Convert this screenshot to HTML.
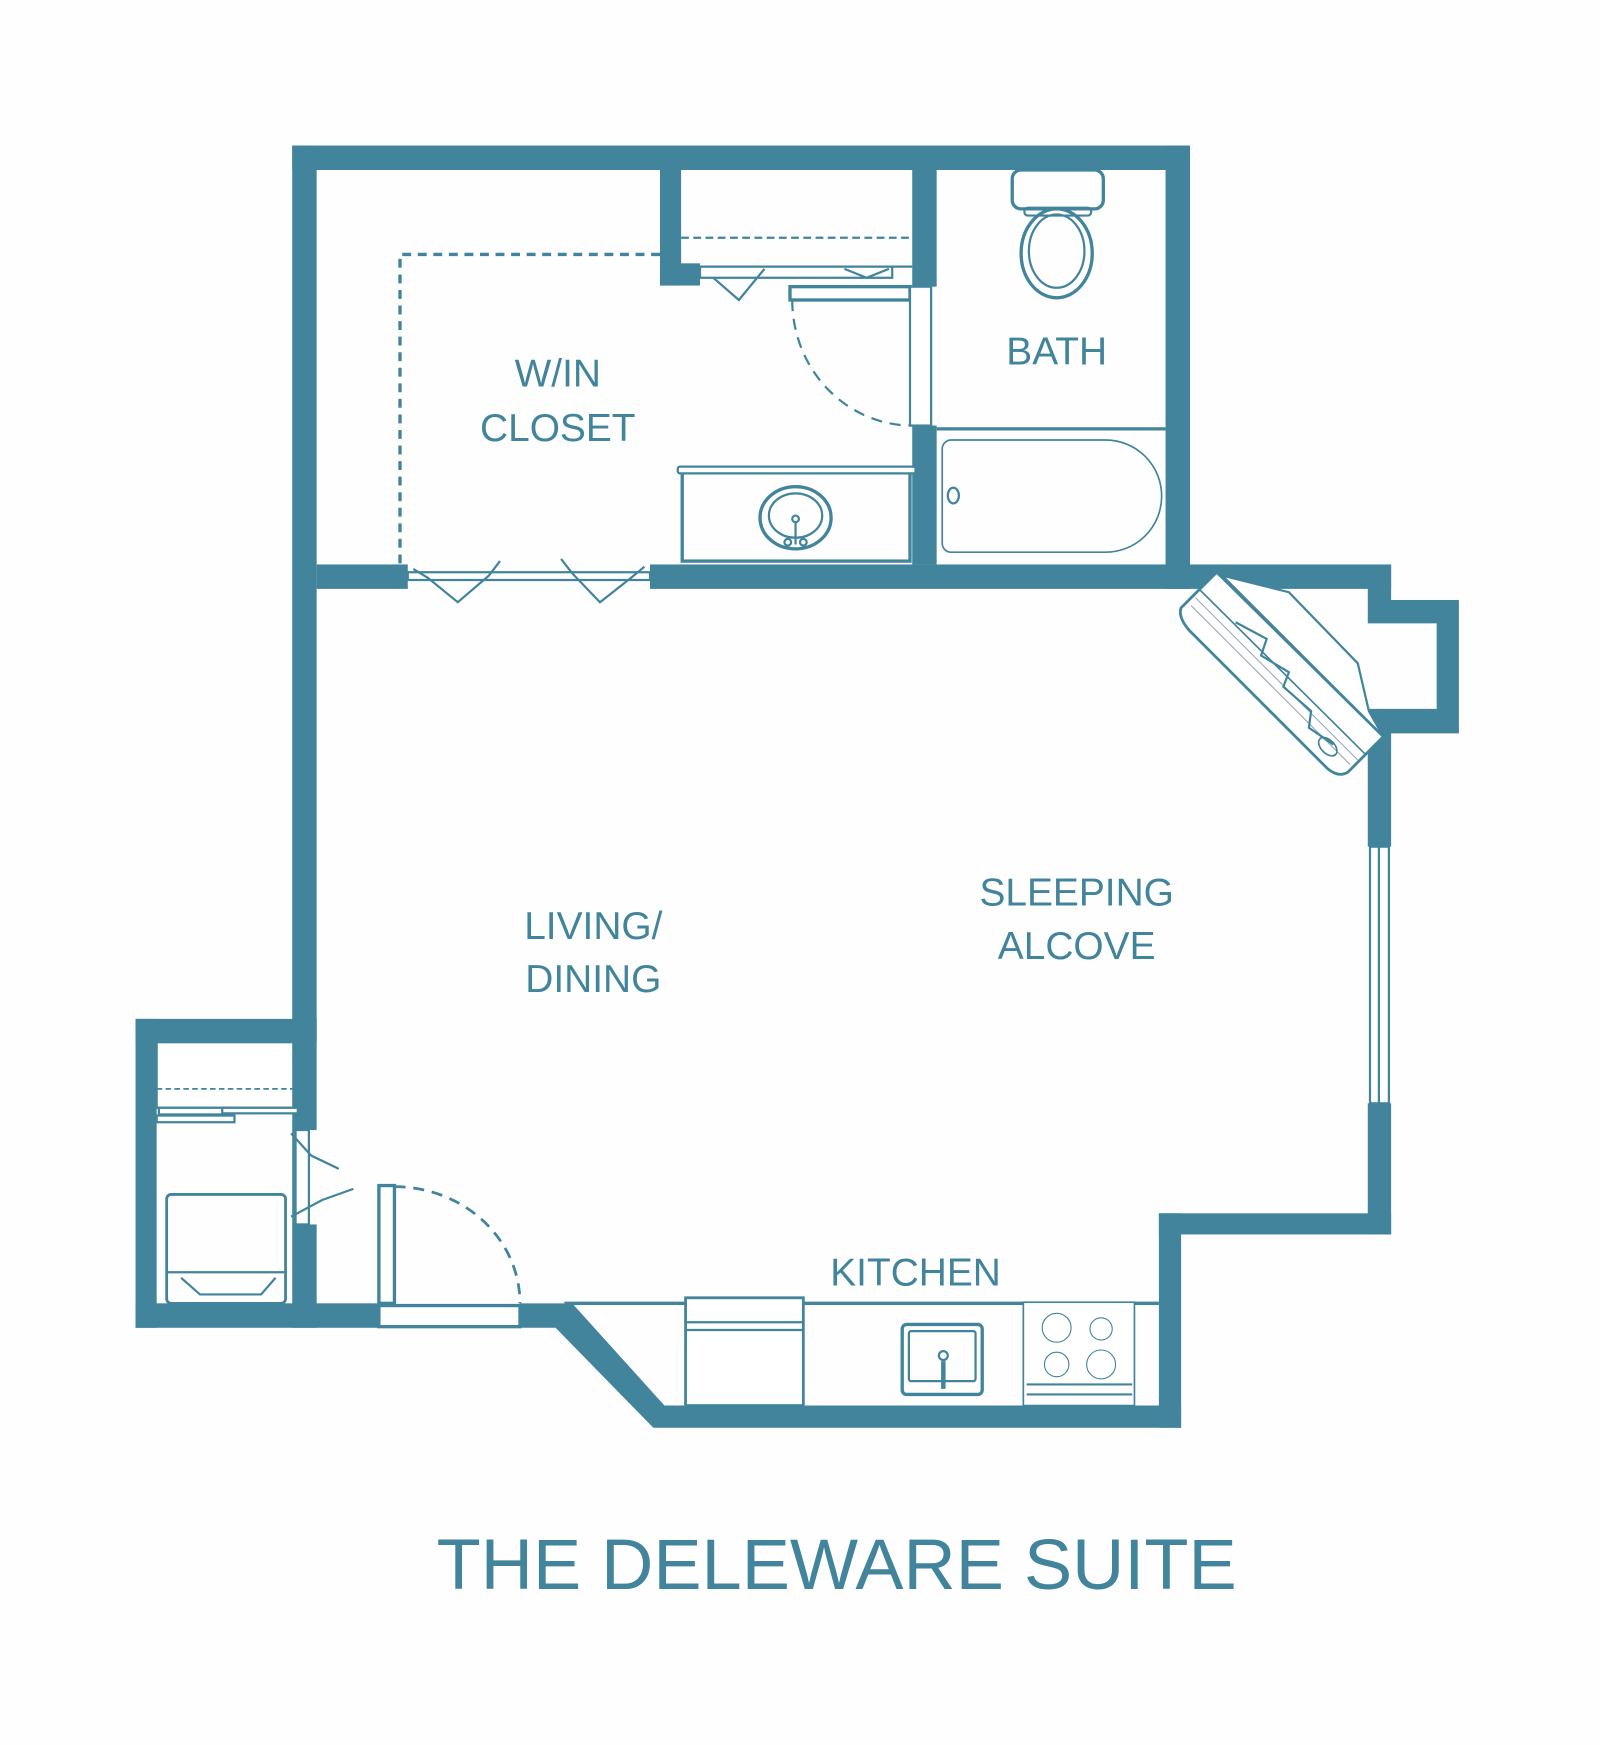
<!DOCTYPE html>
<html><head><meta charset="utf-8"><style>
html,body{margin:0;padding:0;background:#fefefe;}
svg{display:block}
text{font-family:"Liberation Sans",Arial,sans-serif;fill:#41849c}
</style></head><body>
<svg width="1600" height="1745" viewBox="0 0 1440 1570.5" xmlns="http://www.w3.org/2000/svg">
<rect width="1440" height="1571" fill="#fefefe"/>
<g fill="#41849c" stroke="none">
<rect x="263" y="131" width="808" height="22"/>
<rect x="263" y="131" width="22" height="886"/>
<rect x="263" y="1102" width="22" height="93"/>
<rect x="122" y="917" width="163" height="21"/>
<rect x="122" y="917" width="19" height="278"/>
<rect x="122" y="1173" width="219" height="22"/>
<rect x="285" y="508" width="82" height="22"/>
<rect x="585" y="508" width="667" height="22"/>
<rect x="1049" y="131" width="22" height="399"/>
<rect x="594" y="153" width="19" height="104"/>
<rect x="594" y="237" width="36" height="20"/>
<rect x="821" y="153" width="22" height="105"/>
<rect x="821" y="383" width="22" height="125"/>
<polygon points="1231,508 1252,508 1252,540 1313,540 1313,660 1252,660 1252,762 1231,762 1231,638 1293,638 1293,561 1231,561"/>
<rect x="1231" y="993" width="21" height="118"/>
<rect x="1043" y="1092" width="209" height="19"/>
<rect x="1043" y="1092" width="20" height="193"/>
<polygon points="468,1173 515,1173 598,1265 1063,1265 1063,1285 588,1285 500,1195 468,1195"/>
</g>
<g fill="none" stroke="#41849c" stroke-width="2">
<rect x="1233" y="762" width="17" height="231" fill="#fff"/>
<line x1="1241" y1="762" x2="1241" y2="993"/>
<polyline points="594,229 360,229 360,508" stroke-width="3" stroke-dasharray="8,6"/>
<line x1="613" y1="214" x2="821" y2="214" stroke-dasharray="7,4"/>
<line x1="613" y1="240" x2="821" y2="240"/>
<rect x="630" y="240" width="173" height="10" fill="#fff"/>
<polyline points="642,250 665,270 688,242"/>
<polyline points="760,242 780,250 800,242"/>
<rect x="711" y="258" width="108" height="12" fill="#fff" stroke-width="3"/>
<rect x="819" y="258" width="19" height="125" fill="#fff"/>
<path d="M713,270 A108,113 0 0 0 821,383" stroke-dasharray="10,7"/>
<rect x="614" y="425" width="205" height="80" stroke-width="3"/>
<rect x="610" y="420" width="214" height="6" rx="2" fill="#fff"/>
<ellipse cx="716" cy="466" rx="32" ry="28" stroke-width="3"/>
<ellipse cx="716" cy="464" rx="24" ry="20"/>
<line x1="716" y1="470" x2="716" y2="490"/>
<circle cx="716" cy="467" r="3"/>
<circle cx="709" cy="488" r="3"/><circle cx="723" cy="488" r="3"/>
<rect x="911" y="153" width="82" height="35" rx="8" stroke-width="3"/>
<rect x="922" y="187" width="60" height="7" rx="3"/>
<ellipse cx="951" cy="228" rx="32" ry="40" stroke-width="3"/>
<ellipse cx="951" cy="226" rx="25" ry="33"/>
<line x1="843" y1="386" x2="1049" y2="386" stroke-width="3"/>
<path d="M856,396 H995 A50,50 0 0 1 995,497 H856 A8,8 0 0 1 848,489 V404 A8,8 0 0 1 856,396 Z" stroke-width="1.5"/>
<ellipse cx="858" cy="446" rx="5" ry="7"/>
<rect x="367" y="515" width="218" height="7" fill="#fff"/>
<polyline points="372,512 385,520 412,542 440,518 450,505"/>
<polyline points="505,503 515,516 540,542 568,520 580,510"/>
<rect x="141" y="938" width="123" height="59" fill="#fff"/>
<line x1="141" y1="980" x2="264" y2="980" stroke-dasharray="5,3" stroke-width="1.5"/>
<rect x="143" y="997" width="60" height="6" fill="#fff"/>
<rect x="200" y="997" width="68" height="5" fill="#fff"/>
<rect x="141" y="1004" width="70" height="6" fill="#fff"/>
<rect x="150" y="1075" width="107" height="98" rx="4" stroke-width="2.5"/>
<line x1="150" y1="1145" x2="257" y2="1145"/>
<polyline points="163,1150 180,1165 235,1165 248,1150"/>
<rect x="266" y="1017" width="12" height="85" fill="#fff"/>
<line x1="264" y1="1017" x2="264" y2="1102"/>
<polyline points="262,1020 280,1040 305,1052"/>
<polyline points="262,1095 290,1080 318,1070"/>
<rect x="341" y="1175" width="127" height="19" fill="#fff" stroke-width="3"/>
<rect x="341" y="1067" width="14" height="106" fill="#fff" stroke-width="3"/>
<path d="M355,1068 A113,105 0 0 1 468,1173" stroke-dasharray="10,7" stroke-width="2.5"/>
<line x1="508" y1="1173" x2="1043" y2="1173" stroke-width="3"/>
<rect x="617" y="1168" width="106" height="97" fill="#fff" stroke-width="2.5"/>
<line x1="617" y1="1190" x2="723" y2="1190"/>
<line x1="617" y1="1197" x2="723" y2="1197"/>
<rect x="812" y="1192" width="72" height="63" rx="4" stroke-width="3"/>
<rect x="818" y="1198" width="60" height="45" rx="2"/>
<circle cx="849" cy="1220" r="4"/>
<line x1="849" y1="1225" x2="849" y2="1250" stroke-width="4"/>
<rect x="921" y="1172" width="100" height="93" fill="#fff" stroke-width="1.5"/>
<circle cx="951" cy="1195" r="13" stroke-width="1"/>
<circle cx="991" cy="1196" r="10" stroke-width="1"/>
<circle cx="951" cy="1228" r="11" stroke-width="1"/>
<circle cx="991" cy="1228" r="13" stroke-width="1"/>
<line x1="924" y1="1246" x2="1019" y2="1246"/>
<line x1="924" y1="1255" x2="1019" y2="1255"/>
<!-- fireplace -->
<polygon points="1100,518 1160,533 1222,597 1232,640 1245,663" fill="#fff" stroke-width="2"/>
<path d="M1095,515 L1245,663 L1213,695 Q1205,700 1195,692 L1070,567 Q1060,555 1063,547 Z" fill="#fff" stroke-width="2.5"/>
<line x1="1080" y1="531" x2="1229" y2="679" stroke-width="1.5"/>
<line x1="1072" y1="545" x2="1215" y2="688" stroke="#9ab" stroke-width="1"/>
<line x1="1076" y1="538" x2="1222" y2="684" stroke="#9ab" stroke-width="1"/>
<polyline points="1112,560 1140,575 1135,590 1160,605 1155,618 1180,640 1178,655 1200,670" stroke-width="2"/>
<ellipse cx="1195" cy="672" rx="10" ry="6" transform="rotate(45 1195 672)" stroke-width="1.5"/>
</g>
<g text-anchor="middle" font-size="35">
<text x="502" y="348">W/IN</text>
<text x="502" y="397">CLOSET</text>
<text x="951" y="328">BATH</text>
<text x="534" y="845">LIVING/</text>
<text x="534" y="893">DINING</text>
<text x="969" y="815">SLEEPING</text>
<text x="969" y="863">ALCOVE</text>
<text x="824" y="1157">KITCHEN</text>
</g>
<text x="393" y="1430" font-size="64" textLength="720" lengthAdjust="spacingAndGlyphs">THE DELEWARE SUITE</text>
</svg>
</body></html>
